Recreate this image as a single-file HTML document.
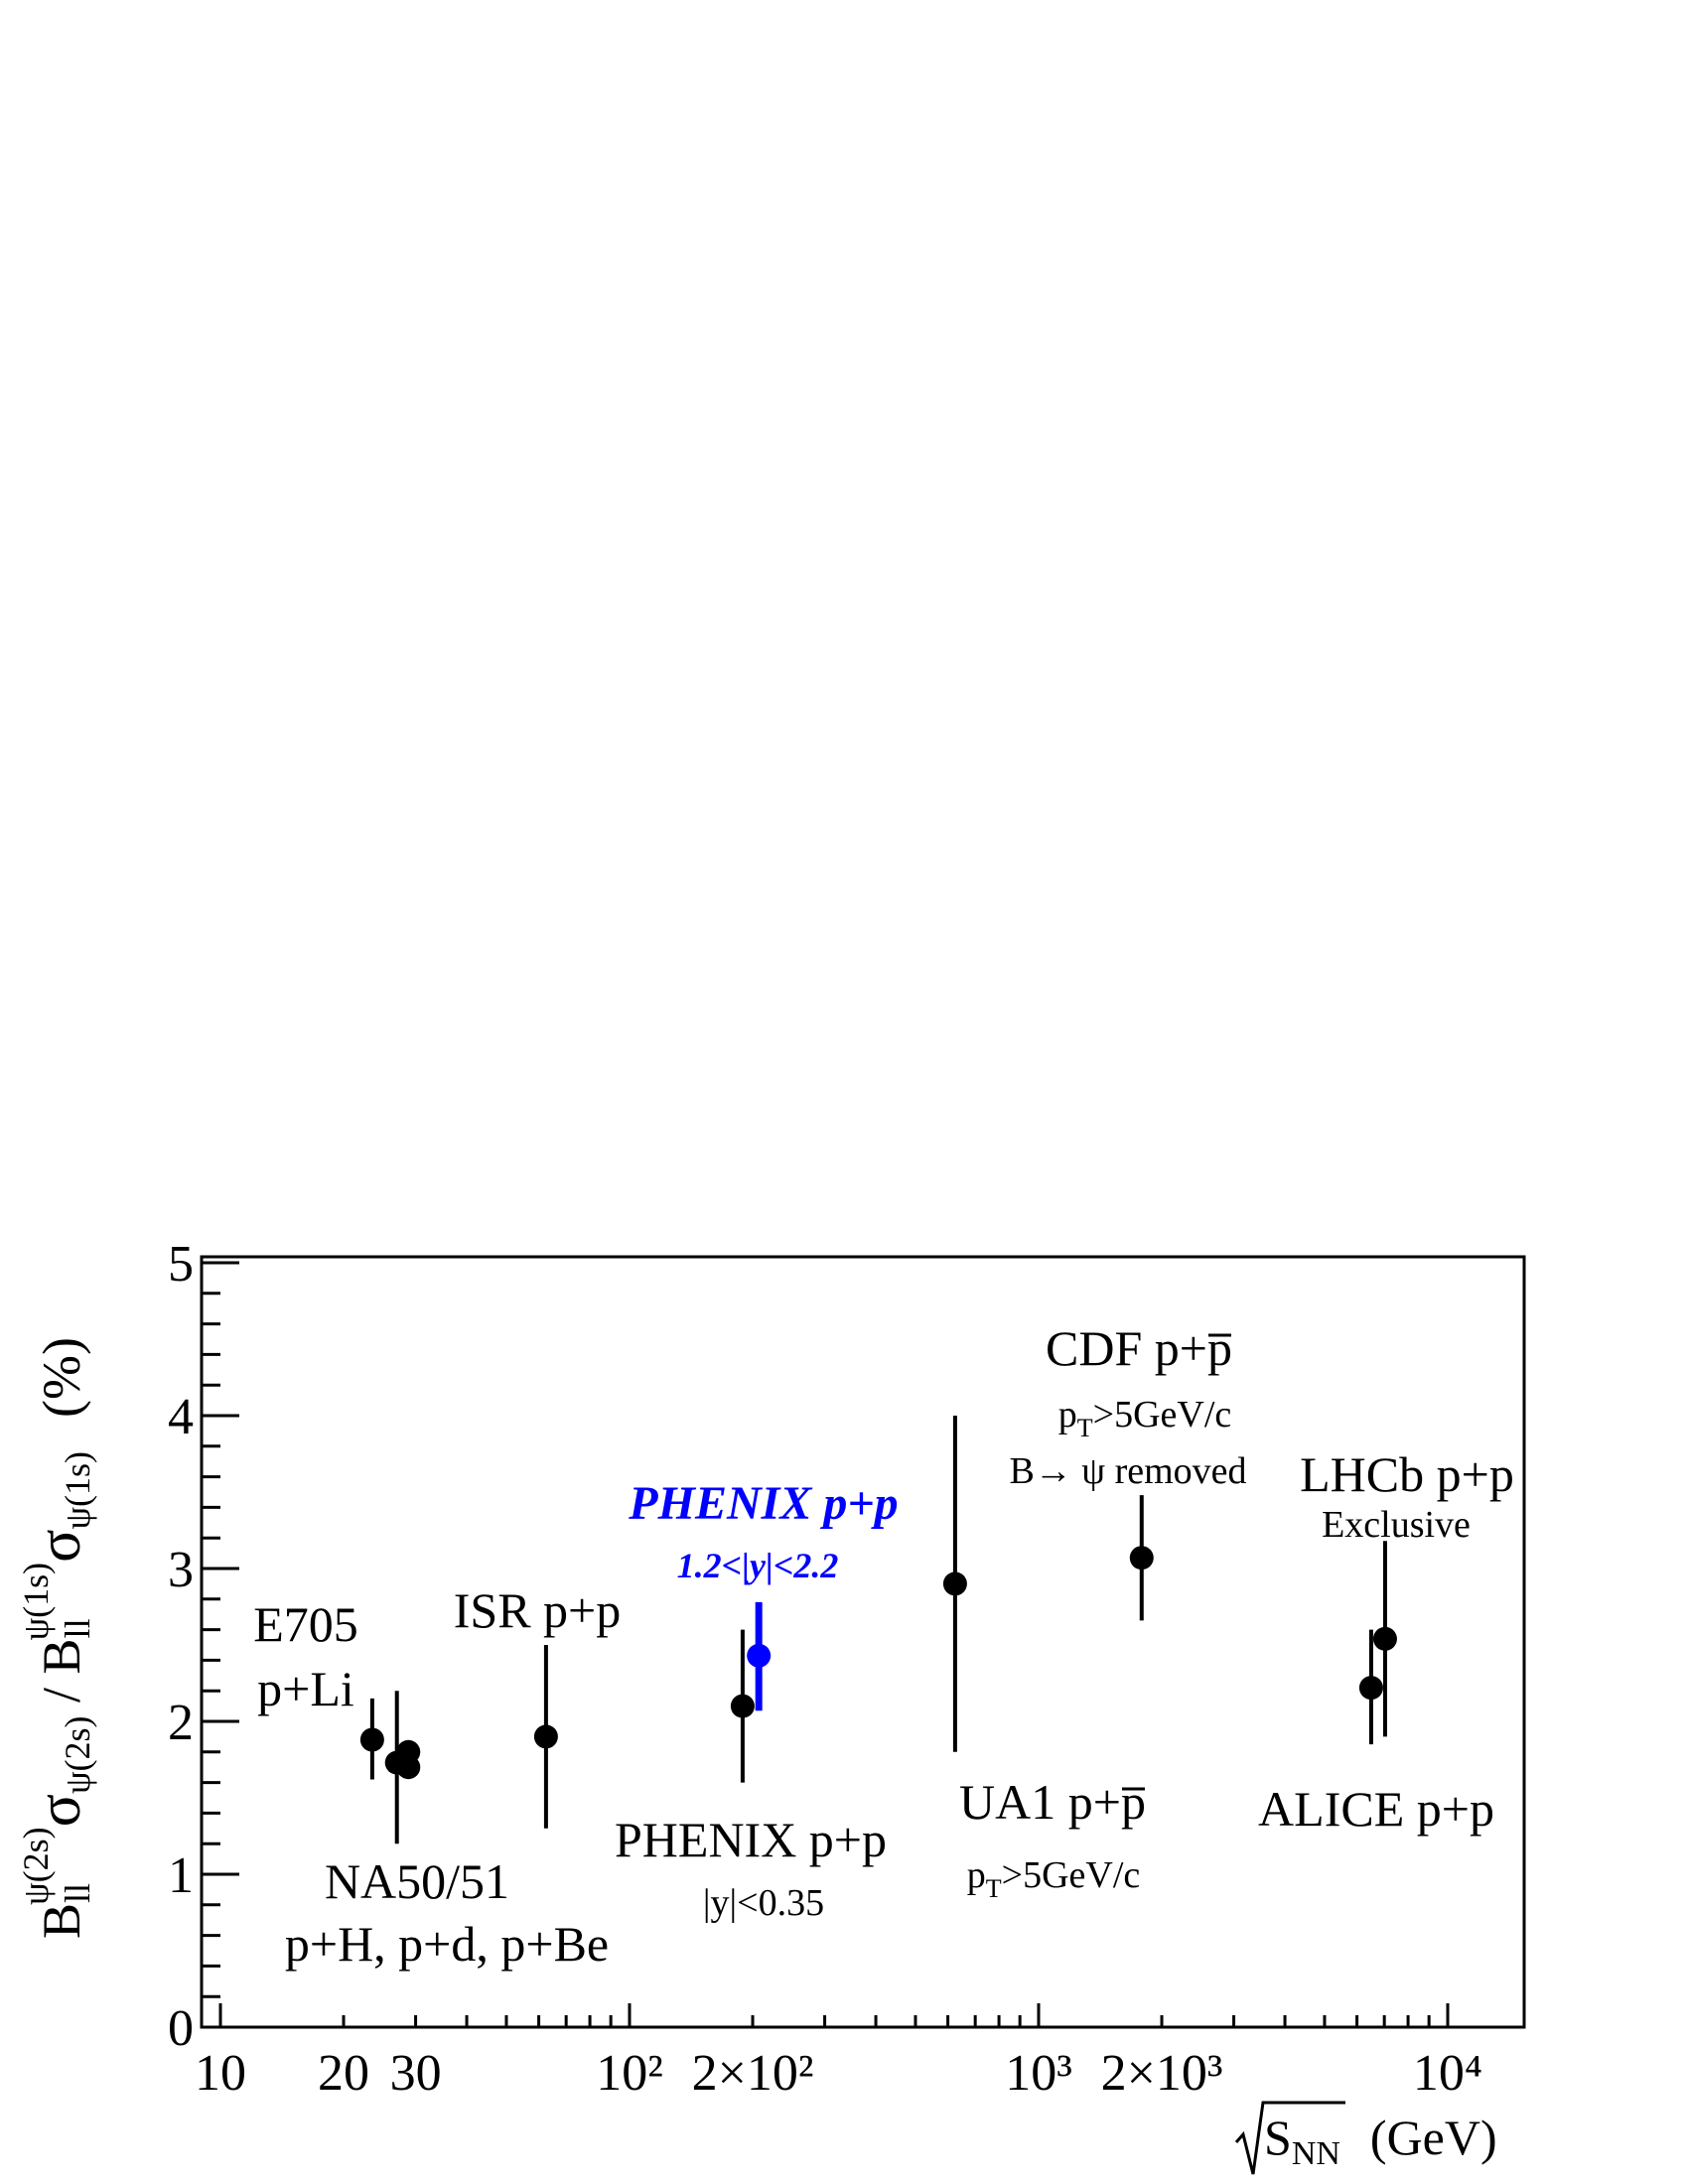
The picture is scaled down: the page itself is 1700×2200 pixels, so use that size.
<!DOCTYPE html>
<html><head><meta charset="utf-8"><style>
html,body{margin:0;padding:0;background:#fff;}
svg{display:block;font-family:"Liberation Serif",serif;}
</style></head><body>
<svg id="chart" width="1700" height="2200" viewBox="0 0 1700 2200" xmlns="http://www.w3.org/2000/svg">
<rect x="203" y="1266" width="1332" height="776" fill="none" stroke="#000" stroke-width="3"/>
<g id="axes"></g>
<g id="marks"></g>
<g id="ann" font-size="50" text-anchor="middle">
<text x="308" y="1653">E705</text>
<text x="308" y="1718">p+Li</text>
<text x="541" y="1639">ISR p+p</text>
<text x="769" y="1530" fill="#0000ff" font-weight="bold" font-style="italic" font-size="48">PHENIX p+p</text>
<text x="763" y="1589" fill="#0000ff" font-weight="bold" font-style="italic" font-size="36">1.2&lt;|y|&lt;2.2</text>
<text x="420" y="1912">NA50/51</text>
<text x="450" y="1975">p+H, p+d, p+Be</text>
<text x="756" y="1870">PHENIX p+p</text>
<text x="769" y="1929" font-size="38">|y|&lt;0.35</text>
<text id="ua1" x="1060" y="1832">UA1 p+p</text>
<text x="1061" y="1901" font-size="38">p<tspan font-size="26" dy="10">T</tspan><tspan dy="-10">&gt;5GeV/c</tspan></text>
<text id="cdf" x="1147" y="1375">CDF p+p</text>
<text x="1153" y="1437" font-size="38">p<tspan font-size="26" dy="10">T</tspan><tspan dy="-10">&gt;5GeV/c</tspan></text>
<text x="1136" y="1494" font-size="38">B→ ψ removed</text>
<text x="1417" y="1502">LHCb p+p</text>
<text x="1406" y="1548" font-size="38">Exclusive</text>
<text x="1386" y="1839">ALICE p+p</text>
</g>
<g font-size="50">
<path d="M1245 2158 L1252 2150 L1262 2190 L1272 2118 L1355 2118" fill="none" stroke="#000" stroke-width="3"/>
<text x="1273" y="2170">S<tspan font-size="34" dy="10">NN</tspan><tspan dy="-10" dx="30">(GeV)</tspan></text>
</g>
<g transform="translate(80,1650) rotate(-90)" font-size="54" text-anchor="middle">
<text x="0" y="0">B<tspan font-size="36" dy="10">ll</tspan><tspan font-size="36" dx="-22" dy="-42">ψ(2s)</tspan><tspan dy="32" font-size="62">σ</tspan><tspan font-size="36" dy="10">ψ(2s)</tspan><tspan dy="-10"> / B</tspan><tspan font-size="36" dy="10">ll</tspan><tspan font-size="36" dx="-22" dy="-42">ψ(1s)</tspan><tspan dy="32" font-size="62">σ</tspan><tspan font-size="36" dy="10">ψ(1s)</tspan><tspan dy="-10" dx="34">(%)</tspan></text>
</g>
</svg>
<script>
const categories = ["E705","NA50","NA51","NA51b","ISR","PHENIX-mid","PHENIX-fwd","UA1","CDF","ALICE","LHCb"];
const energies = [23.5, 27, 28.8, 28.8, 62.5, 189, 207, 625, 1786, 6500, 7030];
const ratios = [1.88, 1.73, 1.80, 1.70, 1.90, 2.10, 2.43, 2.90, 3.07, 2.22, 2.54];
const errLow = [1.62, 1.20, 1.80, 1.70, 1.30, 1.60, 2.07, 1.80, 2.66, 1.85, 1.90];
const errHigh = [2.15, 2.20, 1.80, 1.70, 2.50, 2.60, 2.78, 4.00, 3.48, 2.60, 3.18];
const isBlue = [0,0,0,0,0,0,1,0,0,0,0];
const xTickLabels = ["10","20","30","10²","2×10²","10³","2×10³","10⁴"];
const xTickValues = [10,20,30,100,200,1000,2000,10000];
const yTickValues = [0,1,2,3,4,5];

const NS="http://www.w3.org/2000/svg";
const X0=222, DEC=412, Y0=2042, YU=154, XL=203, XR=1535;
function xs(v){return X0+(Math.log10(v)-1)*DEC;}
function ys(v){return Y0-v*YU;}
function mk(tag,attrs,parent){const e=document.createElementNS(NS,tag);for(const k in attrs)e.setAttribute(k,attrs[k]);parent.appendChild(e);return e;}
const axes=document.getElementById('axes');
const marks=document.getElementById('marks');
for(let v=0;v<=5.0001;v+=0.2){
  const major=Math.abs(v-Math.round(v))<1e-6;
  const t=mk('line',{x1:XL,x2:XL+(major?38:19),y1:ys(v),y2:ys(v),stroke:'#000','stroke-width':3},axes);
  
  
}
yTickValues.forEach(v=>{
  const t=mk('text',{x:XL-8,y:ys(v)+18,'font-size':52,'text-anchor':'end'},axes);
  t.textContent=v;
  
  
});
for(let d=10;d<=10000;d*=10){
  for(let m=1;m<10;m++){
    const v=d*m; const x=xs(v); if(x>XR)break;
    const t=mk('line',{x1:x,x2:x,y1:Y0,y2:Y0-(m===1?24:12),stroke:'#000','stroke-width':3},axes);
    
    
  }
}
xTickValues.forEach((v,i)=>{
  const t=mk('text',{x:xs(v),y:2105,'font-size':52,'text-anchor':'middle'},axes);
  t.textContent=xTickLabels[i];
  
  
});
categories.forEach((c,i)=>{
  const col=isBlue[i]?'#0000ff':'#000';
  const x=xs(energies[i]);
  if(errHigh[i]>errLow[i]){
    const l=mk('line',{x1:x,x2:x,y1:ys(errLow[i]),y2:ys(errHigh[i]),stroke:col,'stroke-width':isBlue[i]?7:4},marks);
    
    
  }
  const p=mk('circle',{cx:x,cy:ys(ratios[i]),r:12,fill:col},marks);
  
  
});
// overlines for anti-proton
const ann=document.getElementById('ann');
['ua1','cdf'].forEach(id=>{
  const t=document.getElementById(id);
  const b=t.getBBox();
  const right=b.x+b.width;
  const y=parseFloat(t.getAttribute('y'))-30;
  const l=mk('line',{x1:right-24,x2:right-1,y1:y,y2:y,stroke:'#000','stroke-width':3},ann);
  
  
});
</script>
</body></html>
